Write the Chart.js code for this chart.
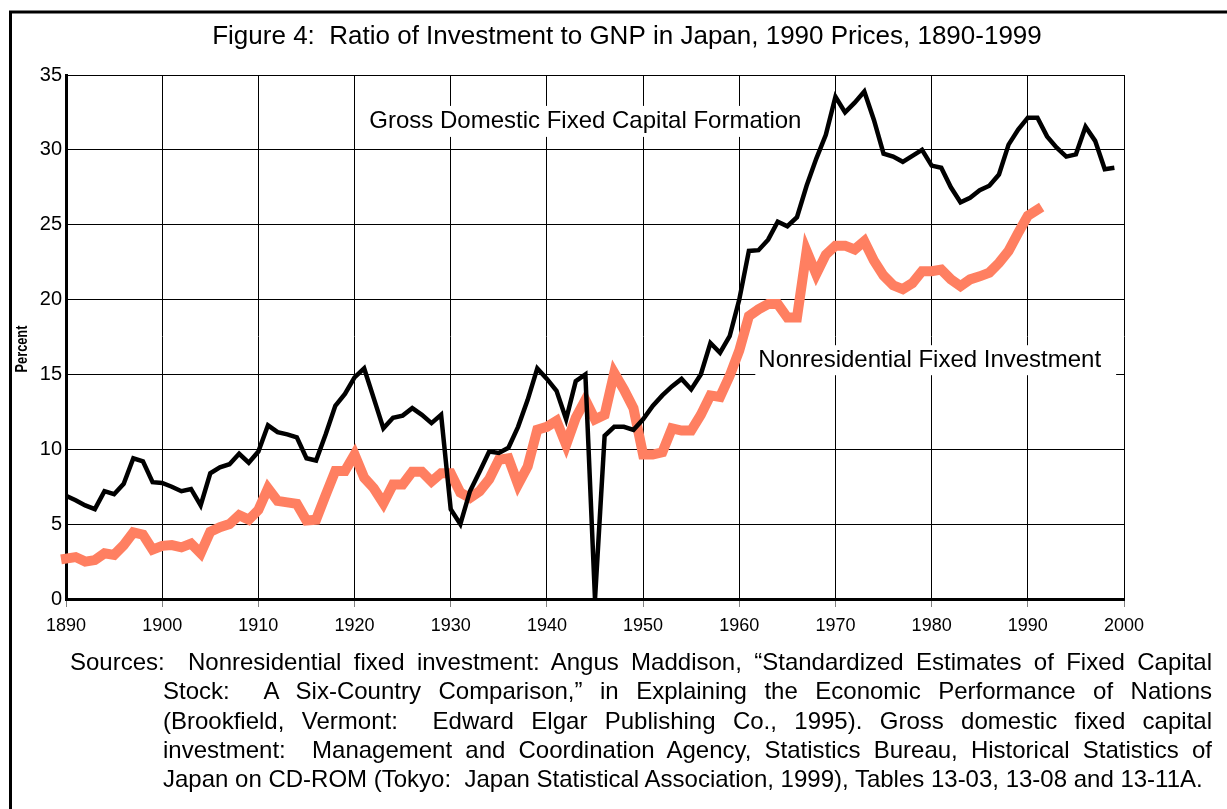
<!DOCTYPE html>
<html>
<head>
<meta charset="utf-8">
<script src="https://cdn.jsdelivr.net/npm/chart.js@4.4.0/dist/chart.umd.min.js"></script>
<style>
  html, body { margin: 0; padding: 0; background: #fff; }
  #wrap { position: relative; width: 1227px; height: 809px; overflow: hidden; }
  #fig { position: absolute; left: 0; top: 0; }
  .src { position: absolute; left: 70px; top: 647px; width: 1142px; font-family: "Liberation Sans", Arial, sans-serif; font-size: 24px; color: #000; }
  .src .line { height: 29.3px; line-height: 29.3px; overflow: hidden; }
  .src .just { text-align: justify; text-align-last: justify; }
  .src .ind { margin-left: 93px; }
  .src .first { display: flex; }
  .src .first .lead { width: 118px; flex: none; }
  .src .first .rest { flex: 1; }
</style>
</head>
<body>
<div id="wrap">
  <canvas id="fig" width="1227" height="809"></canvas>
  <div class="src">
    <div class="line first"><span class="lead">Sources:</span><span class="rest just">Nonresidential fixed investment: Angus Maddison, “Standardized Estimates of Fixed Capital</span></div>
    <div class="line just ind">Stock:&nbsp; A Six-Country Comparison,” in Explaining the Economic Performance of Nations</div>
    <div class="line just ind">(Brookfield, Vermont:&nbsp; Edward Elgar Publishing Co., 1995). Gross domestic fixed capital</div>
    <div class="line just ind">investment:&nbsp; Management and Coordination Agency, Statistics Bureau, Historical Statistics of</div>
    <div class="line ind">Japan on CD-ROM (Tokyo:&nbsp; Japan Statistical Association, 1999), Tables 13-03, 13-08 and 13-11A.</div>
  </div>
</div>
<script>
const FONT = '"Liberation Sans", Arial, sans-serif';

const titleText = 'Figure 4:  Ratio of Investment to GNP in Japan, 1990 Prices, 1890-1999';
const yAxisLabel = 'Percent';
const grossLabel = 'Gross Domestic Fixed Capital Formation';
const nonresLabel = 'Nonresidential Fixed Investment';

// years 1890-1999 for gross, 1890-1991 for nonresidential
const grossYears = Array.from({ length: 110 }, (_, i) => 1890 + i);
const nonresYears = Array.from({ length: 102 }, (_, i) => 1890 + i);

const grossValues = [
  6.9, 6.6, 6.25, 6.0, 7.2, 7.0, 7.7, 9.4, 9.2, 7.8,
  7.75, 7.5, 7.2, 7.35, 6.25, 8.4, 8.8, 9.0, 9.7, 9.1,
  9.85, 11.6, 11.15, 11.0, 10.8, 9.4, 9.25, 11.0, 12.9, 13.7,
  14.8, 15.4, 13.4, 11.4, 12.1, 12.25, 12.75, 12.3, 11.75, 12.3,
  6.0, 5.0, 7.2, 8.5, 9.85, 9.75, 10.1, 11.5, 13.3, 15.4,
  14.7, 13.9, 12.0, 14.55, 15.0, 0, 10.9, 11.5, 11.5, 11.3,
  12.0, 12.9, 13.6, 14.2, 14.7, 14.0, 15.0, 17.1, 16.45, 17.55,
  20.0, 23.25, 23.3, 24.0, 25.2, 24.9, 25.5, 27.6, 29.4, 31.0,
  33.55, 32.5, 33.15, 33.9, 32.0, 29.75, 29.55, 29.2, 29.6, 30.0,
  28.95, 28.8, 27.5, 26.5, 26.8, 27.3, 27.6, 28.35, 30.35, 31.35,
  32.15, 32.15, 30.9, 30.15, 29.55, 29.7, 31.55, 30.6, 28.7, 28.8
];

const nonresValues = [
  2.7, 2.8, 2.5, 2.6, 3.05, 2.95, 3.6, 4.45, 4.3, 3.3,
  3.55, 3.6, 3.45, 3.7, 3.05, 4.5, 4.8, 5.0, 5.6, 5.3,
  5.95, 7.4, 6.55, 6.45, 6.35, 5.25, 5.3, 6.95, 8.55, 8.55,
  9.65, 8.1, 7.4, 6.4, 7.65, 7.65, 8.5, 8.5, 7.85, 8.4,
  8.4, 7.1, 6.75, 7.2, 8.0, 9.3, 9.4, 7.65, 8.85, 11.3,
  11.5, 11.9, 10.3, 12.1, 13.3, 12.0, 12.3, 15.1, 14.0, 12.75,
  9.65, 9.65, 9.8, 11.4, 11.25, 11.25, 12.3, 13.6, 13.5, 14.9,
  16.6, 18.9, 19.35, 19.7, 19.7, 18.8, 18.8, 23.25, 21.7, 23.0,
  23.6, 23.6, 23.35, 23.9, 22.6, 21.6, 20.95, 20.7, 21.1, 21.9,
  21.9, 22.0, 21.35, 20.9, 21.35, 21.55, 21.8, 22.45, 23.25, 24.45,
  25.6, 26.0
];

const toPoints = (xs, ys) => xs.map((x, i) => ({ x, y: ys[i] }));

const labelBox = (ctx, text, cx, cy, padL, padR, h) => {
  const w = ctx.measureText(text).width;
  ctx.fillStyle = '#fff';
  ctx.fillRect(cx - w / 2 - padL, cy - h / 2, w + padL + padR, h);
  ctx.fillStyle = '#000';
  ctx.fillText(text, cx, cy);
};

const figureText = {
  id: 'figureText',
  beforeDatasetsDraw(chart) {
    const { ctx, scales: { x, y } } = chart;
    ctx.save();
    ctx.font = '24px ' + FONT;
    ctx.textAlign = 'center';
    ctx.textBaseline = 'middle';
    labelBox(ctx, grossLabel, x.getPixelForValue(1944), y.getPixelForValue(31.9), 10, 8, 31);
    labelBox(ctx, nonresLabel, x.getPixelForValue(1979.8), y.getPixelForValue(15.95), 3, 15, 30);
    ctx.restore();
  },
  afterDraw(chart) {
    const { ctx } = chart;
    ctx.save();
    // frame
    ctx.strokeStyle = '#000';
    ctx.lineWidth = 3;
    ctx.beginPath();
    ctx.moveTo(10.5, 820);
    ctx.lineTo(10.5, 12);
    ctx.lineTo(1240, 12);
    ctx.stroke();
    // title
    ctx.fillStyle = '#000';
    ctx.font = '26px ' + FONT;
    ctx.textAlign = 'center';
    ctx.textBaseline = 'middle';
    ctx.fillText(titleText, 627, 37);
    // y label, condensed like the original
    ctx.translate(22, 349);
    ctx.rotate(-Math.PI / 2);
    ctx.scale(0.75, 1);
    ctx.font = 'bold 17px ' + FONT;
    ctx.fillText(yAxisLabel, 0, 0);
    ctx.restore();
  }
};

new Chart(document.getElementById('fig'), {
  type: 'line',
  data: {
    datasets: [
      {
        label: grossLabel,
        data: toPoints(grossYears, grossValues),
        borderColor: '#000',
        borderWidth: 4.5,
        borderJoinStyle: 'miter',
        borderCapStyle: 'butt',
        pointRadius: 0,
        tension: 0,
        clip: { left: 5, top: 5, right: 5, bottom: 0 }
      },
      {
        label: nonresLabel,
        data: toPoints(nonresYears, nonresValues),
        borderColor: '#ff7f61',
        borderWidth: 10,
        borderJoinStyle: 'miter',
        borderCapStyle: 'square',
        pointRadius: 0,
        tension: 0,
        clip: 8
      }
    ]
  },
  options: {
    responsive: false,
    animation: false,
    devicePixelRatio: 1,
    layout: { padding: { left: 10, top: 75, right: 103, bottom: 0 } },
    plugins: {
      legend: { display: false },
      tooltip: { enabled: false },
      title: { display: false }
    },
    scales: {
      x: {
        type: 'linear',
        min: 1890,
        max: 2000,
        afterFit: (s) => { s.height = 210; },
        grid: { color: '#000', lineWidth: 1, tickLength: 8, tickColor: '#808080' },
        border: { color: '#000', width: 3 },
        ticks: {
          stepSize: 10,
          padding: 8,
          color: '#000',
          font: { family: FONT, size: 18 },
          callback: (v) => String(v)
        }
      },
      y: {
        min: 0,
        max: 35,
        afterFit: (s) => { s.width = 56; },
        grid: { color: '#000', lineWidth: 1, drawTicks: false },
        border: { color: '#000', width: 3 },
        ticks: {
          stepSize: 5,
          padding: 4,
          color: '#000',
          font: { family: FONT, size: 20 }
        }
      }
    }
  },
  plugins: [figureText]
});
</script>
</body>
</html>
